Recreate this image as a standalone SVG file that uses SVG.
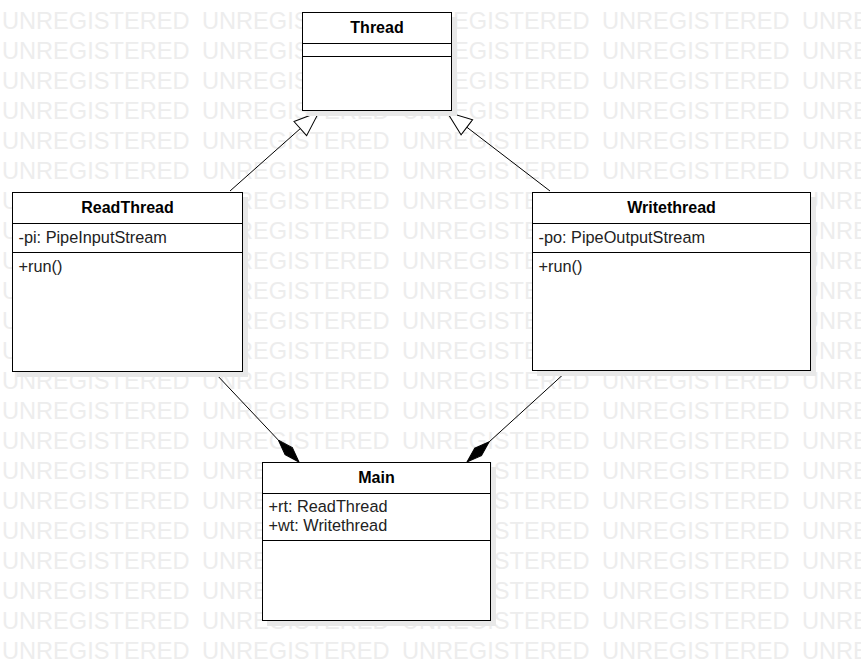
<svg xmlns="http://www.w3.org/2000/svg" xmlns:xlink="http://www.w3.org/1999/xlink" width="861" height="671" viewBox="0 0 861 671">
<style>
.wm{font-family:"Liberation Sans",Arial,sans-serif;font-size:23.6px;fill:#ededed}
.box{fill:#ffffff;stroke:#000000;stroke-width:1}
.sh{fill:#e8e8e8}
.sep{stroke:#000000;stroke-width:1}
.title{font-family:"Liberation Sans",Arial,sans-serif;font-size:16px;font-weight:bold;fill:#000000;text-anchor:middle}
.mem{font-family:"Liberation Sans",Arial,sans-serif;font-size:16.3px;fill:#222222}
.conn{stroke:#000000;stroke-width:1;fill:none}
</style>
<defs>
<g id="wmrow">
<text class="wm" x="2">UNREGISTERED</text>
<text class="wm" x="202">UNREGISTERED</text>
<text class="wm" x="402">UNREGISTERED</text>
<text class="wm" x="602">UNREGISTERED</text>
<text class="wm" x="802">UNREGISTERED</text>
</g>
<marker id="tri" viewBox="0 0 27 21" refX="26" refY="10.5" markerWidth="27" markerHeight="21" markerUnits="userSpaceOnUse" orient="auto">
<path d="M1,1 L26,10.5 L1,20 Z" fill="#ffffff" stroke="#000000" stroke-width="1"/>
</marker>
<marker id="dia" viewBox="0 -6 31 12" refX="30" refY="0" markerWidth="31" markerHeight="12" markerUnits="userSpaceOnUse" orient="auto">
<path d="M0,0 L15,-5 L30,0 L15,5 Z" fill="#000000" stroke="#000000" stroke-width="1"/>
</marker>
</defs>
<rect x="0" y="0" width="861" height="671" fill="#ffffff"/>
<g id="watermark">
<use xlink:href="#wmrow" y="29"/>
<use xlink:href="#wmrow" y="59"/>
<use xlink:href="#wmrow" y="89"/>
<use xlink:href="#wmrow" y="119"/>
<use xlink:href="#wmrow" y="149"/>
<use xlink:href="#wmrow" y="179"/>
<use xlink:href="#wmrow" y="209"/>
<use xlink:href="#wmrow" y="239"/>
<use xlink:href="#wmrow" y="269"/>
<use xlink:href="#wmrow" y="299"/>
<use xlink:href="#wmrow" y="329"/>
<use xlink:href="#wmrow" y="359"/>
<use xlink:href="#wmrow" y="389"/>
<use xlink:href="#wmrow" y="419"/>
<use xlink:href="#wmrow" y="449"/>
<use xlink:href="#wmrow" y="479"/>
<use xlink:href="#wmrow" y="509"/>
<use xlink:href="#wmrow" y="539"/>
<use xlink:href="#wmrow" y="569"/>
<use xlink:href="#wmrow" y="599"/>
<use xlink:href="#wmrow" y="629"/>
<use xlink:href="#wmrow" y="659"/>
</g>
<g id="connectors">
<line class="conn" x1="230" y1="191" x2="319" y2="112" marker-end="url(#tri)"/>
<line class="conn" x1="550" y1="191" x2="447" y2="112" marker-end="url(#tri)"/>
<line class="conn" x1="215" y1="373" x2="299" y2="462" marker-end="url(#dia)"/>
<line class="conn" x1="567" y1="371" x2="467" y2="462" marker-end="url(#dia)"/>
</g>
<g id="Thread">
<rect class="sh" x="307" y="17" width="150" height="99"/>
<rect class="box" x="302.5" y="12.5" width="149" height="98"/>
<line class="sep" x1="302.5" y1="43.5" x2="451.5" y2="43.5"/>
<line class="sep" x1="302.5" y1="56.5" x2="451.5" y2="56.5"/>
<text class="title" x="377" y="33">Thread</text>
</g>
<g id="ReadThread">
<rect class="sh" x="17" y="197" width="231" height="180"/>
<rect class="box" x="12.5" y="192.5" width="230" height="179"/>
<line class="sep" x1="12.5" y1="223.5" x2="242.5" y2="223.5"/>
<line class="sep" x1="12.5" y1="252.5" x2="242.5" y2="252.5"/>
<text class="title" x="127.5" y="213">ReadThread</text>
<text class="mem" x="18.5" y="242.5">-pi: PipeInputStream</text>
<text class="mem" x="18.5" y="271.5">+run()</text>
</g>
<g id="Writethread">
<rect class="sh" x="537" y="197" width="279" height="179"/>
<rect class="box" x="532.5" y="192.5" width="278" height="178"/>
<line class="sep" x1="532.5" y1="223.5" x2="810.5" y2="223.5"/>
<line class="sep" x1="532.5" y1="252.5" x2="810.5" y2="252.5"/>
<text class="title" x="671.5" y="213">Writethread</text>
<text class="mem" x="538.5" y="242.5">-po: PipeOutputStream</text>
<text class="mem" x="538.5" y="271.5">+run()</text>
</g>
<g id="Main">
<rect class="sh" x="267" y="467" width="229" height="159"/>
<rect class="box" x="262.5" y="462.5" width="228" height="158"/>
<line class="sep" x1="262.5" y1="493.5" x2="490.5" y2="493.5"/>
<line class="sep" x1="262.5" y1="540.5" x2="490.5" y2="540.5"/>
<text class="title" x="376.5" y="483">Main</text>
<text class="mem" x="268.5" y="512">+rt: ReadThread</text>
<text class="mem" x="268.5" y="531">+wt: Writethread</text>
</g>
</svg>
